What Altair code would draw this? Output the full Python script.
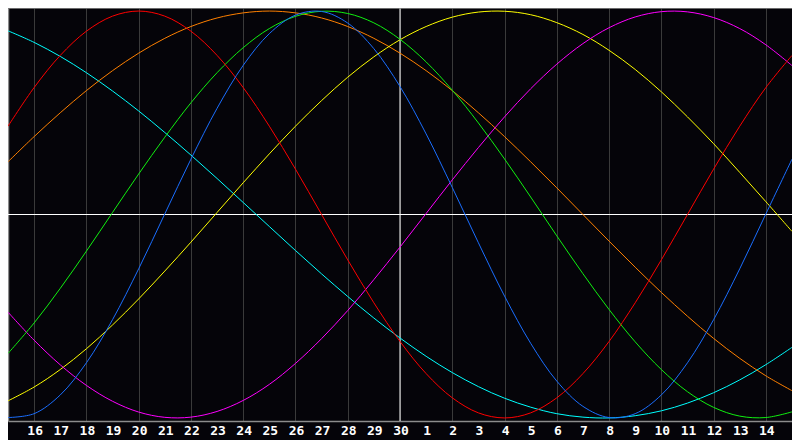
import altair as alt
import pandas as pd

# day index 0..30 (day 15 of previous month .. day 15 of next month)
day_index = list(range(31))
tick_positions = list(range(1, 30))
tick_labels = ["16", "17", "18", "19", "20", "21", "22", "23", "24", "25", "26", "27", "28", "29", "30",
               "1", "2", "3", "4", "5", "6", "7", "8", "9", "10", "11", "12", "13", "14"]

blue = [-0.998, -0.979, -0.887, -0.729, -0.517, -0.267, 0.003, 0.272, 0.522, 0.733, 0.889, 0.980, 0.998,
        0.941, 0.815, 0.629, 0.396, 0.133, -0.139, -0.401, -0.633, -0.819, -0.943, -0.998, -0.979, -0.887,
        -0.729, -0.517, -0.267, 0.003, 0.272]
red = [0.434, 0.624, 0.782, 0.901, 0.975, 1.000, 0.975, 0.901, 0.782, 0.624, 0.434, 0.223, 0.000, -0.223,
       -0.434, -0.624, -0.782, -0.901, -0.975, -1.000, -0.975, -0.901, -0.782, -0.624, -0.434, -0.223, 0.000,
       0.223, 0.434, 0.624, 0.782]
green = [-0.683, -0.533, -0.363, -0.180, 0.010, 0.199, 0.380, 0.549, 0.697, 0.820, 0.914, 0.974, 0.999,
         0.988, 0.942, 0.861, 0.750, 0.611, 0.450, 0.273, 0.086, -0.105, -0.291, -0.467, -0.626, -0.762,
         -0.871, -0.948, -0.991, -0.998, -0.970]
magenta = [-0.480, -0.618, -0.739, -0.840, -0.918, -0.971, -0.997, -0.996, -0.968, -0.914, -0.835, -0.732,
           -0.610, -0.472, -0.320, -0.160, 0.005, 0.170, 0.329, 0.480, 0.618, 0.739, 0.840, 0.918, 0.971,
           0.997, 0.996, 0.968, 0.914, 0.834, 0.732]
yellow = [-0.916, -0.848, -0.762, -0.660, -0.543, -0.415, -0.278, -0.136, 0.010, 0.156, 0.298, 0.434, 0.560,
          0.675, 0.775, 0.859, 0.924, 0.970, 0.995, 0.999, 0.982, 0.943, 0.885, 0.807, 0.713, 0.603, 0.480,
          0.348, 0.207, 0.063, -0.083]
orange = [0.259, 0.383, 0.500, 0.609, 0.707, 0.793, 0.866, 0.924, 0.966, 0.991, 1.000, 0.991, 0.966, 0.924,
          0.866, 0.793, 0.707, 0.609, 0.500, 0.383, 0.259, 0.131, 0.000, -0.131, -0.259, -0.383, -0.500,
          -0.609, -0.707, -0.793, -0.866]
cyan = [0.903, 0.846, 0.777, 0.697, 0.607, 0.509, 0.403, 0.292, 0.177, 0.059, -0.059, -0.177, -0.292, -0.403,
        -0.509, -0.607, -0.697, -0.777, -0.846, -0.903, -0.947, -0.979, -0.996, -1.000, -0.989, -0.965,
        -0.927, -0.876, -0.813, -0.738, -0.653]

series_names = ["cyan", "orange", "yellow", "magenta", "green", "red", "blue"]
series_values = [cyan, orange, yellow, magenta, green, red, blue]
series_colors = ["#00ffff", "#ff8000", "#ffff00", "#ff00ff", "#10f010", "#ff0000", "#1a6eff"]

rows = []
for name, vals in zip(series_names, series_values):
    for i, v in zip(day_index, vals):
        rows.append({"i": i, "v": v, "s": name})
df = pd.DataFrame(rows)
labels_df = pd.DataFrame({"i": tick_positions, "t": tick_labels})

W, H = 784, 413
xscale = alt.Scale(domain=[0, 30], nice=False, zero=False)
yscale = alt.Scale(domain=[-1.015, 1.015], nice=False, zero=False)

curves = alt.Chart(df).mark_line(strokeWidth=1, interpolate="catmull-rom", clip=True).encode(
    x=alt.X("i:Q", scale=xscale,
            axis=alt.Axis(values=tick_positions, grid=True, gridColor="#3a3a3a", gridWidth=1,
                          ticks=False, labels=False, domainColor="#8c8c8c", domainWidth=1.5,
                          title=None)),
    y=alt.Y("v:Q", scale=yscale,
            axis=alt.Axis(grid=False, ticks=False, labels=False, domainColor="#8c8c8c",
                          domainWidth=1.5, title=None)),
    color=alt.Color("s:N", scale=alt.Scale(domain=series_names, range=series_colors), legend=None),
    detail="s:N",
)

day_text = alt.Chart(labels_df).mark_text(
    color="#ffffff", font="DejaVu Sans Mono", fontWeight="bold", fontSize=13,
    align="center", baseline="top", dx=1,
).encode(
    x=alt.X("i:Q", scale=xscale),
    y=alt.value(H + 4),
    text="t:N",
)

center_v = alt.Chart(pd.DataFrame({"i": [15]})).mark_rule(color="#ffffff", strokeWidth=1).encode(
    x=alt.X("i:Q", scale=xscale))
center_h = alt.Chart(pd.DataFrame({"v": [0]})).mark_rule(color="#ffffff", strokeWidth=1).encode(
    y=alt.Y("v:Q", scale=yscale))
top_border = alt.Chart(pd.DataFrame({"a": [0]})).mark_rule(color="#8c8c8c", strokeWidth=1.5).encode(
    y=alt.value(0), x=alt.value(0), x2=alt.value(W))

chart = alt.layer(center_v, center_h, curves, top_border, day_text).properties(
    width=W, height=H,
    background="#050409",
    padding={"left": 0, "top": 0, "right": 0, "bottom": 19},
    autosize=alt.AutoSizeParams(type="none"),
).configure_view(stroke=None, fill="#050409")

chart.save("out.html", embed_options={"renderer": "svg", "actions": False})
